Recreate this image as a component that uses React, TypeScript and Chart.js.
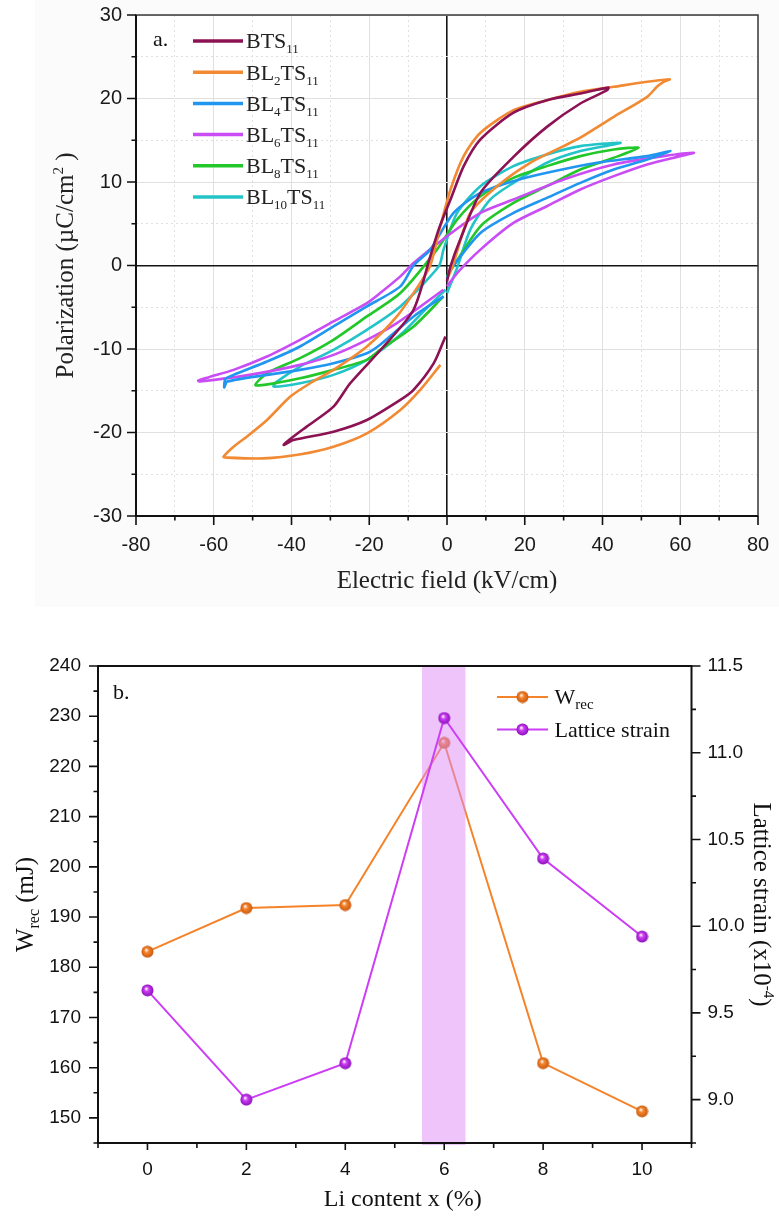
import React, { useEffect, useRef } from "react";
import { Chart, registerables } from "chart.js";

Chart.register(...registerables);

const SERIF = '"Liberation Serif", "Times New Roman", serif';
const SANS = '"Liberation Sans", Arial, sans-serif';

// ---------------- Panel a: P-E hysteresis loops ----------------
const sampleLabels = ["BTS_11", "BL_2TS_11", "BL_4TS_11", "BL_6TS_11", "BL_8TS_11", "BL_10TS_11"];
const sampleColors = ["#8c1254", "#f28a33", "#2196f0", "#c94cf5", "#22c72a", "#22c4c8"];

const bts11E = [0, 0.9, 3.4, 8.6, 17.1, 25.7, 34.3, 41.2, 41.5, 34.3, 25.7, 17.1, 8.6, 4.3, 0.9, -2.0, -4.3, -8.6, -16.3, -24.9, -29.2, -36.1, -41.2, -42.0, -39.5, -29.2, -20.6, -12.0, -8.6, -3.4, -0.4];
const bts11P = [-1.9, -0.1, 3.1, 8.7, 13.0, 16.6, 19.4, 21.0, 21.3, 20.6, 19.8, 18.3, 15.1, 11.9, 7.9, 4.5, 1.1, -5.3, -9.7, -14.1, -16.9, -19.3, -21.1, -21.5, -20.9, -19.9, -18.5, -16.1, -14.9, -11.7, -8.5];

const bl2E = [0.4, 1.7, 6, 12.9, 21.4, 30, 34.3, 42.9, 51.5, 54, 55.7, 57.3, 51.5, 42.9, 34.3, 25.7, 17.1, 8.6, 4.3, 0.9, -1.7, -4.3, -6.9, -12.9, -20.6, -29.2, -35.2, -40.3, -46.3, -51.5, -54.9, -57.5, -57, -47.2, -37.6, -29.2, -20.6, -12, -6.9, -1.7];
const bl2P = [-1.3, 0.3, 6.3, 9.5, 12.3, 14.3, 15.3, 17.8, 20.2, 21.4, 22.0, 22.3, 22.0, 21.4, 20.8, 19.8, 18.6, 15.9, 13.1, 9.1, 4.7, 0, -2.1, -6.1, -9.7, -12.5, -14.1, -15.7, -18.5, -20.5, -21.7, -22.9, -23.0, -23.1, -22.6, -21.7, -20.1, -17.3, -14.9, -11.9];

const bl4E = [0, 0.9, 8.6, 17.1, 25.7, 34.3, 42.9, 51.5, 57.5, 51.5, 38.6, 25.7, 17.1, 8.6, 1.7, -4.3, -8.6, -12, -20.6, -29.2, -37.8, -46.3, -54.9, -57, -57.3, -56.5, -46.3, -37.8, -29.2, -20.6, -17.2, -8.6, -0.9];
const bl4P = [-1.5, -0.5, 3.9, 6.3, 8.1, 9.9, 11.5, 12.7, 13.7, 13.1, 12.3, 11.1, 10.1, 8.7, 6.3, 1.9, 0, -2.5, -4.9, -7.3, -9.7, -11.5, -13.1, -13.6, -14.6, -13.9, -13.1, -12.5, -11.7, -10.5, -9.5, -6.1, -3.7];

const bl6E = [0, 2.6, 8.6, 17.1, 25.7, 34.3, 42.9, 51.5, 60, 63.5, 55.7, 42.9, 30, 17.1, 8.6, 0, -8.6, -12, -17.2, -20.6, -29.2, -37.8, -46.3, -54.9, -61.4, -64, -63.5, -50.8, -37.8, -29.2, -20.6, -12.9, -0.9];
const bl6P = [-2.5, -0.9, 1.9, 5.1, 7.1, 9.1, 10.7, 12.1, 13.1, 13.5, 13.1, 12.1, 10.3, 7.9, 6.3, 3.5, 0.3, -1.3, -3.3, -4.5, -6.7, -8.9, -10.9, -12.5, -13.4, -13.8, -13.9, -13.1, -11.9, -10.7, -8.9, -6.9, -2.9];

const bl8E = [0, 8.6, 17.1, 25.7, 34.3, 42.9, 49.3, 42.9, 34.3, 25.7, 17.1, 8.6, 2.6, -2.6, -12, -20.6, -29.2, -37.8, -46.3, -49.3, -47, -37.8, -29.2, -20.6, -17.2, -8.6, -0.9];
const bl8P = [-1.3, 4.7, 7.5, 9.5, 11.5, 12.9, 14.1, 13.9, 13.1, 11.9, 10.5, 8.3, 5.5, 1.9, -3.3, -6.1, -8.9, -11.1, -12.9, -14.3, -14.3, -13.5, -12.5, -11.3, -10.1, -7.3, -3.7];

const bl10E = [0, 2.6, 6, 11.1, 17.1, 25.7, 34.3, 42.9, 44.6, 34.3, 25.7, 17.1, 8.6, 2.6, -0.9, -2.1, -12, -20.6, -29.2, -37.8, -44, -44.6, -37.8, -29.2, -20.6, -12, -5, -0.4];
const bl10P = [-3.3, -0.3, 4.3, 7.9, 9.9, 12.3, 13.7, 14.5, 14.7, 14.3, 13.3, 11.9, 9.5, 6.3, 1.9, -0.1, -4.9, -7.7, -10.1, -12.1, -14.0, -14.5, -14.1, -13.1, -11.3, -8.3, -5.0, -2.9];

const loopFields = [bts11E, bl2E, bl4E, bl6E, bl8E, bl10E];
const loopPolarizations = [bts11P, bl2P, bl4P, bl6P, bl8P, bl10P];

const fieldMin = -80, fieldMax = 80, fieldMajor = 20, fieldMinor = 10;
const polMin = -30, polMax = 30, polMajor = 10, polMinor = 5;

// ---------------- Panel b: W_rec and lattice strain ----------------
const liContent = [0, 2, 4, 6, 8, 10];
const wrecValues = [183.1, 191.8, 192.4, 224.7, 160.9, 151.3];
const latticeStrainValues = [9.63, 9.0, 9.21, 11.2, 10.39, 9.94];
const highlightRange = [5.55, 6.43];
const liMin = -1, liMax = 11;
const wrecMin = 145, wrecMax = 240;
const strainMin = 8.75, strainMax = 11.5;

const ORANGE = "#f5832a";
const PURPLE = "#cc3df5";

// ---------------- rich text helpers ----------------
type Seg = { t: string; k?: "sub" | "sup" };
function parseRich(s: string): Seg[] {
  const out: Seg[] = [];
  const re = /_\{([^}]*)\}|\^\{([^}]*)\}|_(\d+)|([^_^]+)/g;
  let m: RegExpExecArray | null;
  while ((m = re.exec(s))) {
    if (m[1] !== undefined) out.push({ t: m[1], k: "sub" });
    else if (m[2] !== undefined) out.push({ t: m[2], k: "sup" });
    else if (m[3] !== undefined) out.push({ t: m[3], k: "sub" });
    else out.push({ t: m[4] });
  }
  return out;
}
type RichOpts = { size: number; small: number; subDy: number; supDy: number; align: "left" | "center"; color: string };
function richWidth(ctx: CanvasRenderingContext2D, segs: Seg[], o: RichOpts) {
  let w = 0;
  for (const s of segs) {
    ctx.font = `${s.k ? o.small : o.size}px ${SERIF}`;
    w += ctx.measureText(s.t).width;
  }
  return w;
}
function drawRich(ctx: CanvasRenderingContext2D, text: string, x: number, y: number, o: RichOpts) {
  const segs = parseRich(text);
  let cx = o.align === "center" ? x - richWidth(ctx, segs, o) / 2 : x;
  ctx.fillStyle = o.color;
  ctx.textAlign = "left";
  ctx.textBaseline = "alphabetic";
  for (const s of segs) {
    ctx.font = `${s.k ? o.small : o.size}px ${SERIF}`;
    const dy = s.k === "sub" ? o.subDy : s.k === "sup" ? o.supDy : 0;
    ctx.fillText(s.t, cx, y + dy);
    cx += ctx.measureText(s.t).width;
  }
}
function drawRotated(ctx: CanvasRenderingContext2D, text: string, cx: number, cy: number, angle: number, o: RichOpts) {
  ctx.save();
  ctx.translate(cx, cy);
  ctx.rotate(angle);
  drawRich(ctx, text, 0, o.size * 0.33, { ...o, align: "center" });
  ctx.restore();
}

function makeSphere(base: string, dark: string, size = 13) {
  const c = document.createElement("canvas");
  c.width = size;
  c.height = size;
  const g = c.getContext("2d")!;
  const r = size / 2 - 0.5;
  const grad = g.createRadialGradient(size * 0.4, size * 0.36, 0.4, size / 2, size / 2, r);
  grad.addColorStop(0, "#fff4f0");
  grad.addColorStop(0.35, base);
  grad.addColorStop(1, dark);
  g.fillStyle = grad;
  g.beginPath();
  g.arc(size / 2, size / 2, r, 0, Math.PI * 2);
  g.fill();
  return c;
}

function isMult(v: number, step: number) {
  const q = v / step;
  return Math.abs(q - Math.round(q)) < 1e-6;
}

function zeroVerticalPadding(s: any) {
  s.paddingTop = 0;
  s.paddingBottom = 0;
}
function zeroHorizontalPadding(s: any) {
  s.paddingLeft = 0;
  s.paddingRight = 0;
}

// ---------------- Panel a chart ----------------
function buildPanelA(canvas: HTMLCanvasElement) {
  const plugin = {
    id: "panelA",
    beforeDraw(chart: any) {
      const { ctx, chartArea: ca } = chart;
      ctx.save();
      ctx.fillStyle = "#fbfbfb";
      ctx.fillRect(35, 0, chart.width - 35, 607);
      ctx.fillStyle = "#ffffff";
      ctx.fillRect(ca.left, ca.top, ca.right - ca.left, ca.bottom - ca.top);
      ctx.restore();
    },
    afterDraw(chart: any) {
      const { ctx, chartArea: ca } = chart;
      const xs = chart.scales.x, ys = chart.scales.y;
      ctx.save();
      // frame
      ctx.strokeStyle = "#3a3a3a";
      ctx.lineWidth = 1.5;
      ctx.strokeRect(ca.left, ca.top, ca.right - ca.left, ca.bottom - ca.top);
      ctx.strokeStyle = "#111";
      ctx.lineWidth = 2;
      ctx.beginPath();
      ctx.moveTo(ca.left, ca.top);
      ctx.lineTo(ca.left, ca.bottom);
      ctx.lineTo(ca.right, ca.bottom);
      ctx.stroke();
      // ticks
      ctx.lineWidth = 1.6;
      ctx.beginPath();
      for (let v = fieldMin; v <= fieldMax; v += fieldMinor) {
        const px = xs.getPixelForValue(v);
        const len = isMult(v, fieldMajor) ? 9 : 4.5;
        ctx.moveTo(px, ca.bottom);
        ctx.lineTo(px, ca.bottom + len);
      }
      for (let v = polMin; v <= polMax; v += polMinor) {
        const py = ys.getPixelForValue(v);
        const len = isMult(v, polMajor) ? 9 : 4.5;
        ctx.moveTo(ca.left, py);
        ctx.lineTo(ca.left - len, py);
      }
      ctx.stroke();
      // panel label
      drawRich(ctx, "a.", ca.left + 17, ca.top + 31, { size: 22, small: 13, subDy: 5, supDy: -8, align: "left", color: "#111" });
      // legend
      sampleLabels.forEach((lab, i) => {
        const y = ca.top + 26 + i * 31.2;
        ctx.strokeStyle = sampleColors[i];
        ctx.lineWidth = 3.5;
        ctx.beginPath();
        ctx.moveTo(ca.left + 57, y);
        ctx.lineTo(ca.left + 107, y);
        ctx.stroke();
        drawRich(ctx, lab, ca.left + 110, y + 7.3, { size: 22, small: 13, subDy: 5, supDy: -8, align: "left", color: "#222" });
      });
      // axis titles
      drawRich(ctx, "Electric field (kV/cm)", (ca.left + ca.right) / 2, ca.bottom + 72, { size: 25, small: 15, subDy: 5, supDy: -9, align: "center", color: "#222" });
      drawRotated(ctx, "Polarization (µC/cm^{2} )", ca.left - 71, (ca.top + ca.bottom) / 2, -Math.PI / 2, { size: 25, small: 15, subDy: 5, supDy: -10, align: "center", color: "#222" });
      ctx.restore();
    },
  };

  const gridColor = (ctx: any) => {
    const v = ctx.tick ? ctx.tick.value : 1;
    return v === 0 ? "#151515" : "#e0e0e0";
  };
  const gridWidth = (ctx: any) => (ctx.tick && ctx.tick.value === 0 ? 1.6 : 1);

  return new Chart(canvas, {
    type: "scatter",
    data: {
      datasets: sampleLabels.map((lab, i) => ({
        label: lab,
        data: loopFields[i].map((e, j) => ({ x: e, y: loopPolarizations[i][j] })),
        showLine: true,
        borderColor: sampleColors[i],
        backgroundColor: sampleColors[i],
        borderWidth: 2.6,
        pointRadius: 0,
        tension: 0.25,
        fill: false,
      })),
    },
    options: {
      animation: false,
      responsive: false,
      maintainAspectRatio: false,
      layout: { padding: { top: 15, right: 21, left: 0, bottom: 0 } },
      plugins: { legend: { display: false }, tooltip: { enabled: false } },
      scales: {
        x: {
          type: "linear",
          min: fieldMin,
          max: fieldMax,
          ticks: {
            stepSize: fieldMinor,
            autoSkip: false,
            maxRotation: 0,
            padding: 17,
            color: "#1a1a1a",
            font: { family: SANS, size: 20 },
            callback: (v: any) => (isMult(Number(v), fieldMajor) ? String(v) : ""),
          },
          grid: { color: gridColor, lineWidth: gridWidth, drawTicks: false },
          border: { display: false, dash: (ctx: any) => (ctx.tick && !isMult(ctx.tick.value, fieldMajor) ? [2, 3] : []) },
          afterFit: (s: any) => {
            s.height = 96;
            zeroHorizontalPadding(s);
          },
        },
        y: {
          type: "linear",
          min: polMin,
          max: polMax,
          ticks: {
            stepSize: polMinor,
            autoSkip: false,
            padding: 14,
            color: "#1a1a1a",
            font: { family: SANS, size: 20 },
            callback: (v: any) => (isMult(Number(v), polMajor) ? String(v) : ""),
          },
          grid: { color: gridColor, lineWidth: gridWidth, drawTicks: false },
          border: { display: false, dash: (ctx: any) => (ctx.tick && !isMult(ctx.tick.value, polMajor) ? [2, 3] : []) },
          afterFit: (s: any) => {
            s.width = 136;
            zeroVerticalPadding(s);
          },
        },
      },
    } as any,
    plugins: [plugin],
  });
}

// ---------------- Panel b chart ----------------
function buildPanelB(canvas: HTMLCanvasElement) {
  const orangeSphere = makeSphere(ORANGE, "#c85a10");
  const purpleSphere = makeSphere(PURPLE, "#8a10b8");

  const plugin = {
    id: "panelB",
    beforeDatasetDraw(chart: any, args: any) {
      if (args.index !== 1) return;
      const { ctx, chartArea: ca } = chart;
      const xs = chart.scales.x;
      const x0 = xs.getPixelForValue(highlightRange[0]);
      const x1 = xs.getPixelForValue(highlightRange[1]);
      ctx.save();
      ctx.fillStyle = "rgba(221,138,245,0.5)";
      ctx.fillRect(x0, ca.top, x1 - x0, ca.bottom - ca.top + 2);
      ctx.restore();
    },
    afterDraw(chart: any) {
      const { ctx, chartArea: ca } = chart;
      const xs = chart.scales.x, ys = chart.scales.y, y1 = chart.scales.y1;
      ctx.save();
      ctx.strokeStyle = "#111";
      ctx.lineWidth = 2;
      ctx.strokeRect(ca.left, ca.top, ca.right - ca.left, ca.bottom - ca.top);
      ctx.lineWidth = 1.6;
      ctx.beginPath();
      for (let v = liMin; v <= liMax; v += 1) {
        const px = xs.getPixelForValue(v);
        const len = isMult(v, 2) ? 7 : 5;
        ctx.moveTo(px, ca.bottom);
        ctx.lineTo(px, ca.bottom + len);
      }
      for (let v = wrecMin; v <= wrecMax + 1e-6; v += 5) {
        const py = ys.getPixelForValue(v);
        const len = isMult(v, 10) ? 9 : 4.5;
        ctx.moveTo(ca.left, py);
        ctx.lineTo(ca.left - len, py);
      }
      for (let v = strainMin; v <= strainMax + 1e-6; v += 0.25) {
        const py = y1.getPixelForValue(v);
        const len = isMult(v, 0.5) ? 9 : 4.5;
        ctx.moveTo(ca.right, py);
        ctx.lineTo(ca.right + len, py);
      }
      ctx.stroke();

      drawRich(ctx, "b.", ca.left + 15, ca.top + 33, { size: 22, small: 14, subDy: 5, supDy: -8, align: "left", color: "#111" });

      // legend
      const entries = [
        { text: "W_{rec}", color: ORANGE, img: orangeSphere },
        { text: "Lattice strain", color: PURPLE, img: purpleSphere },
      ];
      entries.forEach((e, i) => {
        const y = ca.top + 31 + i * 32.5;
        const lx0 = ca.right - 194.5, lx1 = ca.right - 143.5;
        ctx.strokeStyle = e.color;
        ctx.lineWidth = 2;
        ctx.beginPath();
        ctx.moveTo(lx0, y);
        ctx.lineTo(lx1, y);
        ctx.stroke();
        ctx.drawImage(e.img, (lx0 + lx1) / 2 - e.img.width / 2, y - e.img.height / 2);
        drawRich(ctx, e.text, ca.right - 137, y + 7.3, { size: 22, small: 15, subDy: 5, supDy: -8, align: "left", color: "#111" });
      });

      // axis titles
      drawRich(ctx, "Li content x (%)", (ca.left + ca.right) / 2 + 8, ca.bottom + 63, { size: 24, small: 15, subDy: 5, supDy: -9, align: "center", color: "#111" });
      drawRotated(ctx, "W_{rec} (mJ)", 25, (ca.top + ca.bottom) / 2, -Math.PI / 2, { size: 25, small: 16, subDy: 6, supDy: -9, align: "center", color: "#111" });
      drawRotated(ctx, "Lattice strain (x10^{-4})", 762, (ca.top + ca.bottom) / 2, Math.PI / 2, { size: 25, small: 15, subDy: 5, supDy: -10, align: "center", color: "#111" });
      ctx.restore();
    },
  };

  const tickFont = { family: SANS, size: 19 };

  return new Chart(canvas, {
    type: "scatter",
    data: {
      datasets: [
        {
          label: "W_rec",
          data: liContent.map((x, i) => ({ x, y: wrecValues[i] })),
          yAxisID: "y",
          showLine: true,
          borderColor: ORANGE,
          backgroundColor: ORANGE,
          borderWidth: 2,
          pointStyle: orangeSphere,
          pointRadius: 6,
          tension: 0,
          order: 1,
        },
        {
          label: "Lattice strain",
          data: liContent.map((x, i) => ({ x, y: latticeStrainValues[i] })),
          yAxisID: "y1",
          showLine: true,
          borderColor: PURPLE,
          backgroundColor: PURPLE,
          borderWidth: 2,
          pointStyle: purpleSphere,
          pointRadius: 6,
          tension: 0,
          order: 0,
        },
      ],
    },
    options: {
      animation: false,
      responsive: false,
      maintainAspectRatio: false,
      layout: { padding: { top: 54, right: 0, left: 0, bottom: 0 } },
      plugins: { legend: { display: false }, tooltip: { enabled: false } },
      scales: {
        x: {
          type: "linear",
          min: liMin,
          max: liMax,
          ticks: {
            stepSize: 1,
            autoSkip: false,
            maxRotation: 0,
            padding: 15,
            color: "#111",
            font: tickFont,
            callback: (v: any) => (Number(v) >= 0 && isMult(Number(v), 2) ? String(v) : ""),
          },
          grid: { display: false, drawTicks: false },
          border: { display: false },
          afterFit: (s: any) => {
            s.height = 83;
            zeroHorizontalPadding(s);
          },
        },
        y: {
          type: "linear",
          position: "left",
          min: wrecMin,
          max: wrecMax,
          ticks: {
            stepSize: 5,
            autoSkip: false,
            padding: 17,
            color: "#111",
            font: tickFont,
            callback: (v: any) => (isMult(Number(v), 10) ? String(v) : ""),
          },
          grid: { display: false, drawTicks: false },
          border: { display: false },
          afterFit: (s: any) => {
            s.width = 98;
            zeroVerticalPadding(s);
          },
        },
        y1: {
          type: "linear",
          position: "right",
          min: strainMin,
          max: strainMax,
          ticks: {
            stepSize: 0.25,
            autoSkip: false,
            padding: 16,
            color: "#111",
            font: tickFont,
            callback: (v: any) => (isMult(Number(v), 0.5) ? Number(v).toFixed(1) : ""),
          },
          grid: { display: false, drawTicks: false },
          border: { display: false },
          afterFit: (s: any) => {
            s.width = 87.5;
            zeroVerticalPadding(s);
          },
        },
      },
    } as any,
    plugins: [plugin],
  });
}

export default function App() {
  const topRef = useRef<HTMLCanvasElement>(null);
  const botRef = useRef<HTMLCanvasElement>(null);
  useEffect(() => {
    const a = buildPanelA(topRef.current!);
    const b = buildPanelB(botRef.current!);
    return () => {
      a.destroy();
      b.destroy();
    };
  }, []);
  return (
    <div style={{ position: "absolute", left: 0, top: 0, width: 779, height: 1226, background: "#fff" }}>
      <canvas ref={topRef} width={779} height={612} style={{ position: "absolute", left: 0, top: 0, width: 779, height: 612 }} />
      <canvas ref={botRef} width={779} height={614} style={{ position: "absolute", left: 0, top: 612, width: 779, height: 614 }} />
    </div>
  );
}
